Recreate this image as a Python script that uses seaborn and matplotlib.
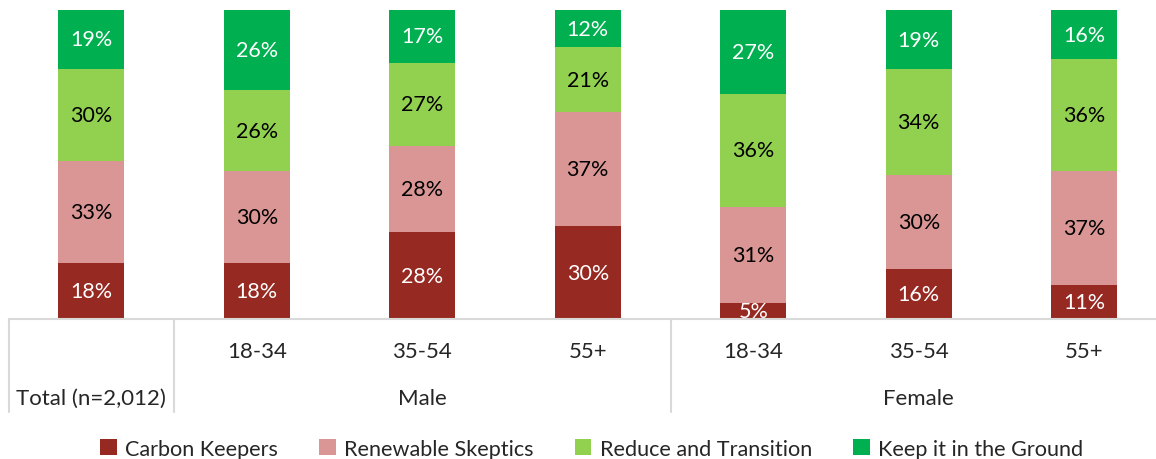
import numpy as np
import pandas as pd
import seaborn as sns
import matplotlib.pyplot as plt
from matplotlib.patches import Patch
import matplotlib.transforms as mtransforms

# data
columns = ["Total", "M 18-34", "M 35-54", "M 55+", "F 18-34", "F 35-54", "F 55+"]
sub_labels = ["", "18-34", "35-54", "55+", "18-34", "35-54", "55+"]
groups = ["Total (n=2,012)", "Male", "Female"]
group_spans = [(0, 0), (1, 3), (4, 6)]

carbon_keepers = [18, 18, 28, 30, 5, 16, 11]
renewable_skeptics = [33, 30, 28, 37, 31, 30, 37]
reduce_transition = [30, 26, 27, 21, 36, 34, 36]
keep_in_ground = [19, 26, 17, 12, 27, 19, 16]

series_names = ["Carbon Keepers", "Renewable Skeptics", "Reduce and Transition", "Keep it in the Ground"]
series_values = [carbon_keepers, renewable_skeptics, reduce_transition, keep_in_ground]
colors = ["#962921", "#DA9694", "#92D050", "#00B050"]
text_colors = ["white", "black", "black", "white"]

sns.set_style("white")
plt.rcParams["font.family"] = ["Lato", "DejaVu Sans"]

df = pd.DataFrame(dict(zip(series_names, series_values)), index=columns)
totals = df.sum(axis=1)
shares = df.div(totals, axis=0) * 100  # 100% stacked

fig = plt.figure(figsize=(11.56, 4.6), dpi=100)
ax = fig.add_axes([8.5 / 1156, 140 / 460, 1158.5 / 1156, 309 / 460])

bottom = np.zeros(len(columns))
for name, color, tcol in zip(series_names, colors, text_colors):
    h = shares[name].values
    sns.barplot(x=columns, y=h, bottom=bottom, color=color, width=0.4,
                saturation=1, errorbar=None, order=columns, ax=ax, linewidth=0)
    for i, (b, hh, v) in enumerate(zip(bottom, h, df[name].values)):
        ax.text(i, b + hh / 2, f"{v}%", ha="center", va="center",
                color=tcol, fontsize=15.5)
    bottom = bottom + h

ax.set_xlim(-0.5, len(columns) - 0.5)
ax.set_ylim(0, 100)
ax.set_xticks([])
ax.set_yticks([])
ax.set_xlabel("")
ax.set_ylabel("")
for s in ["left", "top", "right"]:
    ax.spines[s].set_visible(False)
ax.spines["bottom"].set_color("#D9D9D9")
ax.spines["bottom"].set_linewidth(1.5)

# multi-level category axis
trans = mtransforms.blended_transform_factory(ax.transData, ax.transAxes)
for xb in [-0.5, 0.5, 3.5]:
    ax.plot([xb, xb], [0, -0.30], color="#D9D9D9", lw=1.5,
            transform=trans, clip_on=False)
for i, lab in enumerate(sub_labels):
    if lab:
        ax.text(i, -0.104, lab, ha="center", va="center", fontsize=16,
                transform=trans)
for g, (a, b) in zip(groups, group_spans):
    ax.text((a + b) / 2, -0.256, g, ha="center", va="center", fontsize=16,
            transform=trans)

handles = [Patch(facecolor=c, edgecolor="none") for c in colors]
fig.legend(handles, series_names, loc="center", bbox_to_anchor=(0.512, 0.022),
           ncol=4, frameon=False, fontsize=15.6, handlelength=0.75,
           handleheight=0.75, handletextpad=0.4, columnspacing=1.9)

fig.savefig("out.png", dpi=100)
